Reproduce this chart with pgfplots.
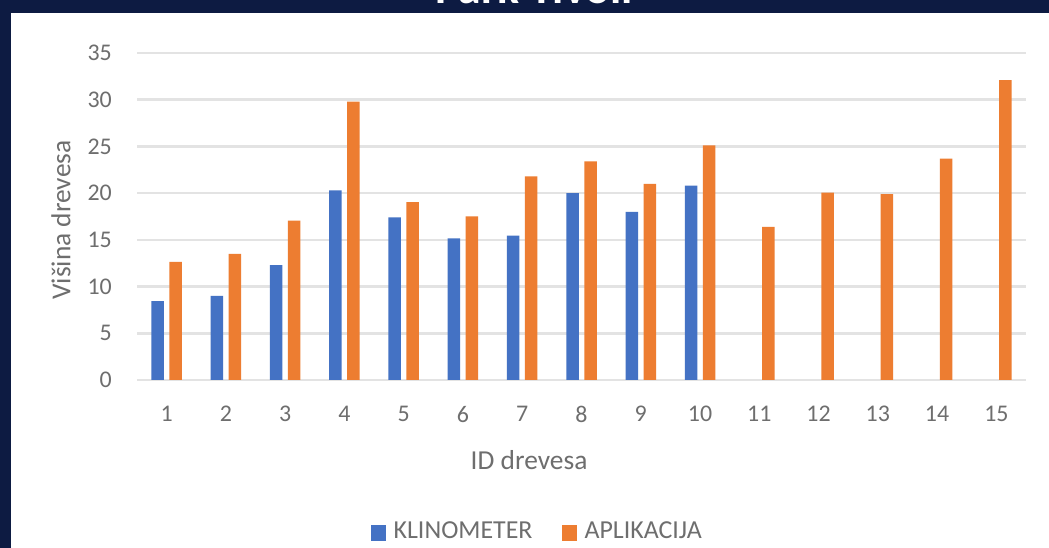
\documentclass[border=0pt]{standalone}
\usepackage{pgfplots}
\pgfplotsset{compat=1.18}
\usepackage{fontspec}
\setmainfont{Carlito}
\definecolor{navy}{HTML}{0D1B42}
\definecolor{kblue}{HTML}{4472C4}
\definecolor{korange}{HTML}{ED7D31}
\definecolor{txt}{HTML}{6E6E6E}
\definecolor{gridc}{HTML}{E3E3E3}
\begin{document}
\begin{tikzpicture}[x=1bp,y=1bp]
\fill[navy] (0,0) rectangle (1049,548);
\fill[white] (11,0) rectangle (1049,535);
\begin{scope}
\clip (0,535) rectangle (1049,548);
\node[anchor=base, text=white, font=\bfseries\fontsize{46}{50}\selectfont, inner sep=0pt] at (534,544) {Park Tivoli};
\end{scope}
\begin{axis}[
  at={(137bp,168bp)}, anchor=south west,
  scale only axis, width=889bp, height=327bp,
  xmin=0.5, xmax=15.5, ymin=0, ymax=35,
  ytick={0,5,...,35}, xtick={1,...,15},
  ybar=5.5bp, bar width=12.5bp,
  ymajorgrids, major grid style={line width=2.5bp, gridc},
  axis line style={draw=none}, major tick length=0pt,
  /pgf/number format/assume math mode=true,
  ticklabel style={inner sep=0pt, text=txt, font=\fontsize{24}{28}\selectfont},
  yticklabel style={anchor=east, xshift=-25bp},
  xticklabel style={anchor=north, yshift=-26bp},
  xlabel={ID drevesa}, ylabel={Višina drevesa},
  label style={text=txt, font=\fontsize{27.5}{32}\selectfont, inner sep=0pt},
  xlabel style={at={(axis description cs:0.441,-0.2446)}, anchor=center},
  ylabel style={at={(axis description cs:-0.0855,0.489)}, anchor=center},
  legend columns=2,
  legend style={at={(axis description cs:0.449,-0.462)}, anchor=center, draw=none, fill=none,
    inner sep=0pt, outer sep=0pt,
    nodes={inner sep=0pt, text=txt, font=\fontsize{26}{30}\selectfont},
    /tikz/every even column/.append style={column sep=29bp}},
  legend image code/.code={\fill[#1] (0bp,-10bp) rectangle (15bp,6bp); \path (23bp,0bp);},
]
\addplot[fill=kblue, draw=none] coordinates {(1,8.45)(2,9.0)(3,12.3)(4,20.3)(5,17.4)(6,15.15)(7,15.45)(8,20.0)(9,18.0)(10,20.8)};
\addplot[fill=korange, draw=none] coordinates {(1,12.65)(2,13.5)(3,17.05)(4,29.8)(5,19.05)(6,17.5)(7,21.8)(8,23.4)(9,21.0)(10,25.1)(11,16.4)(12,20.05)(13,19.9)(14,23.7)(15,32.1)};
\legend{KLINOMETER,APLIKACIJA}
\end{axis}
\end{tikzpicture}
\end{document}
